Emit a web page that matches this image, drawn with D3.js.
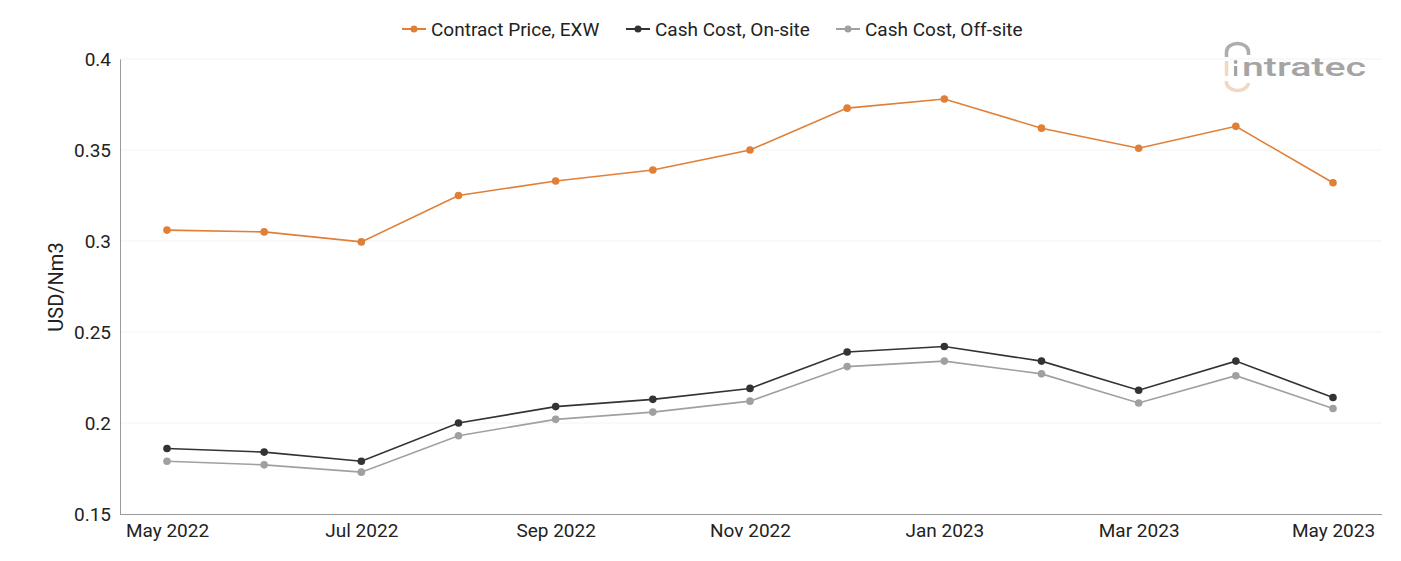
<!DOCTYPE html>
<html><head><meta charset="utf-8">
<script src="https://cdn.jsdelivr.net/npm/d3@7"></script>
<style>body{margin:0;background:#fff;font-family:Roboto,"Noto Sans",sans-serif;}</style>
</head><body><svg id="c" width="1401" height="561"></svg>
<script>
const months = ["May 2022","Jun 2022","Jul 2022","Aug 2022","Sep 2022","Oct 2022","Nov 2022","Dec 2022","Jan 2023","Feb 2023","Mar 2023","Apr 2023","May 2023"];
const contractPrice = [0.306,0.305,0.2995,0.325,0.333,0.339,0.350,0.373,0.378,0.362,0.351,0.363,0.332];
const cashOnSite = [0.186,0.184,0.179,0.200,0.209,0.213,0.219,0.239,0.242,0.234,0.218,0.234,0.214];
const cashOffSite = [0.179,0.177,0.173,0.193,0.202,0.206,0.212,0.231,0.234,0.227,0.211,0.226,0.208];
const yTicks = [0.15,0.2,0.25,0.3,0.35,0.4];
const xTickLabels = ["May 2022","Jul 2022","Sep 2022","Nov 2022","Jan 2023","Mar 2023","May 2023"];
const seriesNames = ["Contract Price, EXW","Cash Cost, On-site","Cash Cost, Off-site"];
const seriesColors = ["#e07f35","#333333","#a0a0a0"];
const seriesData = [contractPrice, cashOnSite, cashOffSite];

const svg = d3.select("#c");
const L = 120, R = 1382, T = 59, B = 514;
const x = d3.scalePoint().domain(months).range([167, 1333]);
const y = d3.scaleLinear().domain([0.15, 0.4]).range([B, T]);

// grid
svg.append("g").selectAll("line").data(yTicks.slice(1)).join("line")
  .attr("x1", L).attr("x2", R).attr("y1", d => y(d)).attr("y2", d => y(d))
  .attr("stroke", "#f3f3f3").attr("stroke-width", 1);

// y axis
const ya = svg.append("g").attr("transform", `translate(${L},0)`)
  .call(d3.axisLeft(y).tickValues(yTicks).tickSize(0).tickPadding(9).tickFormat(d => String(+d.toFixed(2))));
ya.select(".domain").attr("stroke", "#9a9a9a");
ya.selectAll("text").attr("font-size", 19).attr("fill", "#222").attr("font-family", "Roboto");

// x axis
const xa = svg.append("g").attr("transform", `translate(0,${B})`)
  .call(d3.axisBottom(x).tickValues(xTickLabels).tickSize(0).tickPadding(10));
xa.select(".domain").attr("stroke", "#9a9a9a").attr("d", `M${L},0.5H${R}`);
xa.selectAll("text").attr("font-size", 19).attr("fill", "#222").attr("font-family", "Roboto");

// y title
svg.append("text").attr("transform", "translate(63,287) rotate(-90)")
  .attr("text-anchor", "middle").attr("font-size", 20).attr("fill", "#222").attr("font-family", "Roboto")
  .text("USD/Nm3");

// logo
const lg = svg.append("g").attr("opacity", 0.8);
lg.append("path").attr("d", "M1226.5,57 L1226.5,52 A11,8.5 0 0 1 1248.5,52 L1248.5,55").attr("fill", "none").attr("stroke", "#999").attr("stroke-width", 3.5);
lg.append("path").attr("d", "M1226.5,81 A11,8.5 0 0 0 1248.5,83").attr("fill", "none").attr("stroke", "#edcfb2").attr("stroke-width", 3.5);
lg.append("rect").attr("x", 1224.8).attr("y", 61).attr("width", 3.5).attr("height", 15).attr("fill", "#edcfb2");
lg.append("rect").attr("x", 1234).attr("y", 66).attr("width", 3.2).attr("height", 10).attr("fill", "#8e8e8e");
lg.append("circle").attr("cx", 1235.6).attr("cy", 62).attr("r", 1.9).attr("fill", "#8e8e8e");
lg.append("text").attr("x", 1242).attr("y", 76).attr("font-size", 25).attr("font-weight", 500)
  .attr("fill", "#8e8e8e").attr("font-family", "Roboto")
  .attr("textLength", 124).attr("lengthAdjust", "spacingAndGlyphs").text("ntratec");

// lines
const line = d3.line().x((d, i) => x(months[i])).y(d => y(d));
seriesData.forEach((s, k) => {
  const g = svg.append("g");
  g.append("path").datum(s).attr("d", line).attr("fill", "none")
    .attr("stroke", seriesColors[k]).attr("stroke-width", 1.6);
  g.selectAll("circle").data(s).join("circle")
    .attr("cx", (d, i) => x(months[i])).attr("cy", d => y(d)).attr("r", 3.8)
    .attr("fill", seriesColors[k]);
});

// legend
const legX = [402, 626, 836];
const lgd = svg.append("g");
seriesNames.forEach((n, k) => {
  const g = lgd.append("g").attr("transform", `translate(${legX[k]},29)`);
  g.append("line").attr("x1", 0).attr("x2", 24).attr("stroke", seriesColors[k]).attr("stroke-width", 2);
  g.append("circle").attr("cx", 12).attr("r", 3.5).attr("fill", seriesColors[k]);
  g.append("text").attr("x", 29).attr("y", 6.5).attr("font-size", 19).attr("fill", "#222")
    .attr("font-family", "Roboto").text(n);
});
</script></body></html>
